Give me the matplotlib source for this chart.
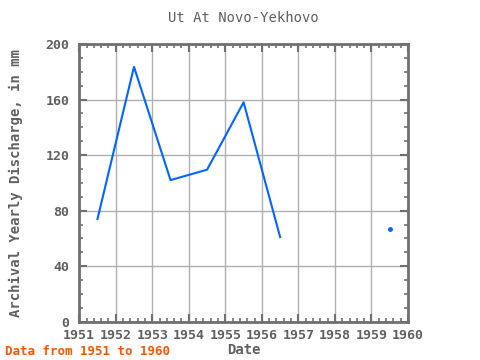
import numpy as np
import matplotlib
matplotlib.use('Agg')
import matplotlib.pyplot as plt
from matplotlib.ticker import MultipleLocator

# yearly values (mm), mid-year positions; 1957-1958 missing
years = [1951.5, 1952.5, 1953.5, 1954.5, 1955.5, 1956.5, 1957.5, 1958.5, 1959.5]
discharge = [74, 183.5, 102, 109.5, 158, 61, np.nan, np.nan, 66.5]

title = 'Ut At Novo-Yekhovo'
ylabel = 'Archival Yearly Discharge, in mm'
xlabel = 'Date'
note = 'Data from 1951 to 1960'

grey = '#707070'
txt = '#606060'
plt.rcParams['font.family'] = ['DejaVu Sans Mono']

fig = plt.figure(figsize=(4.8, 3.6), dpi=100)
ax = fig.add_axes([0.165, 0.106, 0.685, 0.772])

ax.plot(years, discharge, color='#0066ff', lw=1.5)
# isolated point (no neighbours to join)
ax.plot(years[-1:], discharge[-1:], 'o', color='#0066ff', ms=2.5)

ax.set_xlim(1951, 1960)
ax.set_ylim(0, 200)
ax.xaxis.set_major_locator(MultipleLocator(1))
ax.xaxis.set_minor_locator(MultipleLocator(0.2))
ax.yaxis.set_major_locator(MultipleLocator(40))
ax.yaxis.set_minor_locator(MultipleLocator(10))
ax.grid(True, which='major', color='#b0b0b0', lw=1)

ax.tick_params(which='both', direction='in', top=True, right=True, color=grey,
               labelcolor=txt, labelsize=9.5)
ax.tick_params(which='major', length=6, width=1.5)
ax.tick_params(which='minor', length=3, width=1.2)
ax.tick_params(axis='y', pad=7)
ax.tick_params(axis='x', pad=5)
for lab in ax.get_xticklabels() + ax.get_yticklabels():
    lab.set_fontweight('bold')
for s in ax.spines.values():
    s.set_color(grey)
    s.set_linewidth(2)

ax.set_title(title, color=txt, fontsize=10, pad=16)
ax.set_ylabel(ylabel, color=txt, fontsize=10, fontweight='bold', labelpad=16)
ax.set_xlabel(xlabel, color=txt, fontsize=10, fontweight='bold', labelpad=1)
fig.text(0.01, 0.015, note, color='#ff5500', fontsize=9, fontweight='bold')

fig.savefig('out.png', dpi=100)
